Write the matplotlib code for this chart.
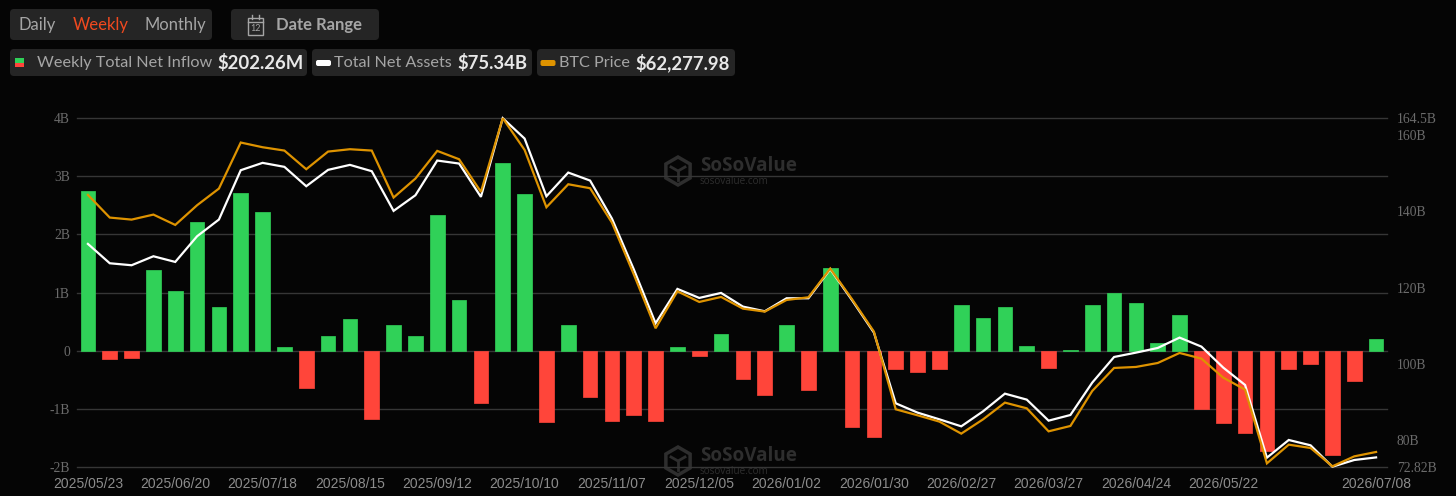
import matplotlib
matplotlib.use("Agg")
import matplotlib.pyplot as plt
from matplotlib.patches import FancyBboxPatch, RegularPolygon, Rectangle

# weekly total net inflow, in billions
inflow = [2.74, -0.15, -0.13, 1.385, 1.02, 2.21, 0.76, 2.71, 2.38, 0.07,
          -0.635, 0.25, 0.54, -1.17, 0.435, 0.25, 2.335, 0.88, -0.90, 3.23,
          2.70, -1.22, 0.44, -0.79, -1.21, -1.11, -1.21, 0.065, -0.085, 0.28,
          -0.49, -0.77, 0.45, -0.675, 1.415, -1.32, -1.48, -0.315, -0.36, -0.315,
          0.78, 0.56, 0.76, 0.085, -0.29, 0.02, 0.78, 0.985, 0.82, 0.14,
          0.62, -1.0, -1.25, -1.41, -1.72, -0.315, -0.22, -1.785, -0.525, 0.195]

# total net assets, in billions
net_assets = [131.46, 126.37, 125.85, 128.21, 126.72, 133.47, 137.86, 150.83, 152.76, 151.71,
              146.62, 150.92, 152.23, 150.57, 140.14, 144.25, 153.37, 152.58, 143.82, 164.5,
              159.15, 143.99, 150.21, 148.11, 138.12, 124.80, 110.60, 119.63, 117.26, 118.57,
              114.98, 113.75, 117.17, 117.17, 124.80, 116.65, 108.14, 89.56, 87.11, 85.35,
              83.51, 87.46, 92.10, 90.53, 85.00, 86.49, 95.00, 101.74, 102.88, 104.11,
              106.83, 104.46, 98.94, 94.38, 75.27, 79.92, 78.52, 72.9, 74.66, 75.34]

btc_price = [111510, 107170, 106780, 107740, 105760, 109530, 112720, 121540, 120640, 120000,
             116430, 119810, 120260, 120000, 111000, 114640, 119940, 118340, 112090, 126200,
             120130, 109150, 113550, 112790, 106210, 96310, 85970, 93050, 91010, 91970,
             89730, 89160, 91390, 91900, 97400, 91520, 85330, 70450, 69300, 68090,
             65790, 68530, 71730, 70640, 66230, 67260, 73960, 78370, 78560, 79320,
             81240, 80160, 76510, 74220, 60100, 63680, 63040, 59530, 61440, 62278]

date_ticks = [0, 4, 8, 12, 16, 20, 24, 28, 32, 36, 40, 44, 48, 52, 59]
date_labels = ["2025/05/23", "2025/06/20", "2025/07/18", "2025/08/15", "2025/09/12",
               "2025/10/10", "2025/11/07", "2025/12/05", "2026/01/02", "2026/01/30",
               "2026/02/27", "2026/03/27", "2026/04/24", "2026/05/22", "2026/07/08"]
left_ticks = [-2, -1, 0, 1, 2, 3, 4]
left_labels = ["-2B", "-1B", "0", "1B", "2B", "3B", "4B"]
right_ticks = [72.82, 80, 100, 120, 140, 160, 164.5]
right_labels = ["72.82B", "80B", "100B", "120B", "140B", "160B", "164.5B"]

BG = "#050505"
PILL = "#252525"
GREEN = "#30D158"
RED = "#FF453A"
ORANGE = "#DE9300"
GRID = "#363636"
WM = "#2e2e2e"

fig = plt.figure(figsize=(14.56, 4.96), dpi=100, facecolor=BG)

# pixel overlay for the header and watermarks, sits under the chart
ui = fig.add_axes([0, 0, 1, 1], zorder=0)
ui.set_xlim(0, 1456)
ui.set_ylim(496, 0)
ui.axis("off")


def pill(x0, y0, x1, y1, color=PILL, r=4):
    ui.add_patch(FancyBboxPatch((x0 + r, y0 + r), x1 - x0 - 2 * r, y1 - y0 - 2 * r,
                                boxstyle=f"round,pad={r},rounding_size={r}",
                                fc=color, ec="none"))


def label(x, y, s, color="#a5a5a5", size=11.7, weight="normal"):
    ui.text(x, y, s, color=color, fontsize=size, fontweight=weight,
            family="Lato", ha="left", va="center")


pill(10, 9, 212, 40)
pill(231, 9, 379, 40)
label(19, 25, "Daily", size=12)
label(73, 25, "Weekly", color="#F0491F", size=12)
label(144, 25, "Monthly", size=11.9)
label(276, 25, "Date Range", size=12, weight="bold")

# calendar icon
ui.add_patch(Rectangle((248, 18), 15, 17, fc="none", ec="#a5a5a5", lw=1))
ui.plot([248, 263], [22, 22], color="#a5a5a5", lw=1)
ui.plot([252, 252], [15, 19], color="#a5a5a5", lw=1)
ui.plot([259, 259], [15, 19], color="#a5a5a5", lw=1)
ui.text(255.5, 28.5, "12", color="#a5a5a5", fontsize=6.5, ha="center", va="center", family="Lato")

pill(10, 49, 307, 76)
pill(312, 49, 532, 76)
pill(537, 49, 735, 76)
ui.add_patch(Rectangle((14.5, 58), 9.5, 4.5, fc=GREEN, ec="none"))
ui.add_patch(Rectangle((14.5, 62.5), 9.5, 4.5, fc=RED, ec="none"))
ui.add_patch(FancyBboxPatch((318, 62), 11, 2, boxstyle="round,pad=2,rounding_size=2", fc="white", ec="none"))
ui.add_patch(FancyBboxPatch((542.5, 62), 11, 2, boxstyle="round,pad=2,rounding_size=2", fc=ORANGE, ec="none"))
label(37, 63, "Weekly Total Net Inflow")
label(217, 63, "$202.26M", color="#e8e8e8", size=13.3, weight="bold")
label(334, 63, "Total Net Assets")
label(457, 63, "$75.34B", color="#e8e8e8", size=13.3, weight="bold")
label(559, 63, "BTC Price")
label(635, 63, "$62,277.98", color="#e8e8e8", size=13.3, weight="bold")

# watermarks
for dy in (0, 290):
    cx, cy = 678, 171 + dy
    ui.add_patch(RegularPolygon((cx, cy), 6, radius=14, fc="none", ec=WM, lw=2.5))
    ui.plot([cx - 7, cx, cx + 7], [cy - 4, cy, cy - 4], color=WM, lw=2)
    ui.plot([cx, cx], [cy, cy + 9], color=WM, lw=2)
    ui.text(700, 166 + dy, "SoSoValue", color=WM, fontsize=13.6, fontweight="bold",
            family="Open Sans", ha="left", va="center")
    ui.text(700, 182 + dy, "sosovalue.com", color=WM, fontsize=7.2,
            family="Open Sans", ha="left", va="center")

# chart axes
ax = fig.add_axes([77 / 1456, (496 - 467) / 496, 1310 / 1456, 348.8 / 496], zorder=1)
ax.patch.set_alpha(0)
ax.set_axisbelow(True)
x = list(range(len(inflow)))
colors = [GREEN if v >= 0 else RED for v in inflow]
ax.bar(x, inflow, width=0.67, color=colors, edgecolor=colors, linewidth=0.5, joinstyle="round", zorder=3)
ax.set_xlim(-0.5, 59.5)
ax.set_ylim(-2, 4)
ax.set_yticks(left_ticks)
ax.set_yticklabels(left_labels, family="Liberation Serif", fontsize=9.8, color="#6b6b6b")
ax.set_xticks(date_ticks)
ax.set_xticklabels(date_labels, family="Liberation Sans", fontsize=10, color="#8c8c8c")
ax.tick_params(axis="x", length=0, pad=7)
ax.tick_params(axis="y", length=0, pad=5)
ax.grid(axis="y", color=GRID, lw=1)
for line in ax.get_ygridlines():
    line.set_clip_on(False)
for s in ax.spines.values():
    s.set_visible(False)

ax2 = ax.twinx()
ax2.set_zorder(2)
ax2.plot(x, net_assets, color="white", lw=1.6, solid_joinstyle="miter", clip_on=False)
ax2.set_ylim(72.82, 164.5)
ax2.set_yticks(right_ticks)
ax2.set_yticklabels(right_labels, family="Liberation Serif", fontsize=9.8, color="#6b6b6b")
ax2.tick_params(axis="y", length=0, pad=7)
for s in ax2.spines.values():
    s.set_visible(False)
for t in ax2.get_yticklabels() + ax.get_yticklabels():
    t.set_verticalalignment("center_baseline")

ax3 = ax.twinx()
ax3.set_zorder(3)
ax3.plot(x, btc_price, color=ORANGE, lw=1.6, solid_joinstyle="miter", clip_on=False)
ax3.set_ylim(59400, 126200)
ax3.axis("off")

fig.savefig("out.png", dpi=100, facecolor=BG)
